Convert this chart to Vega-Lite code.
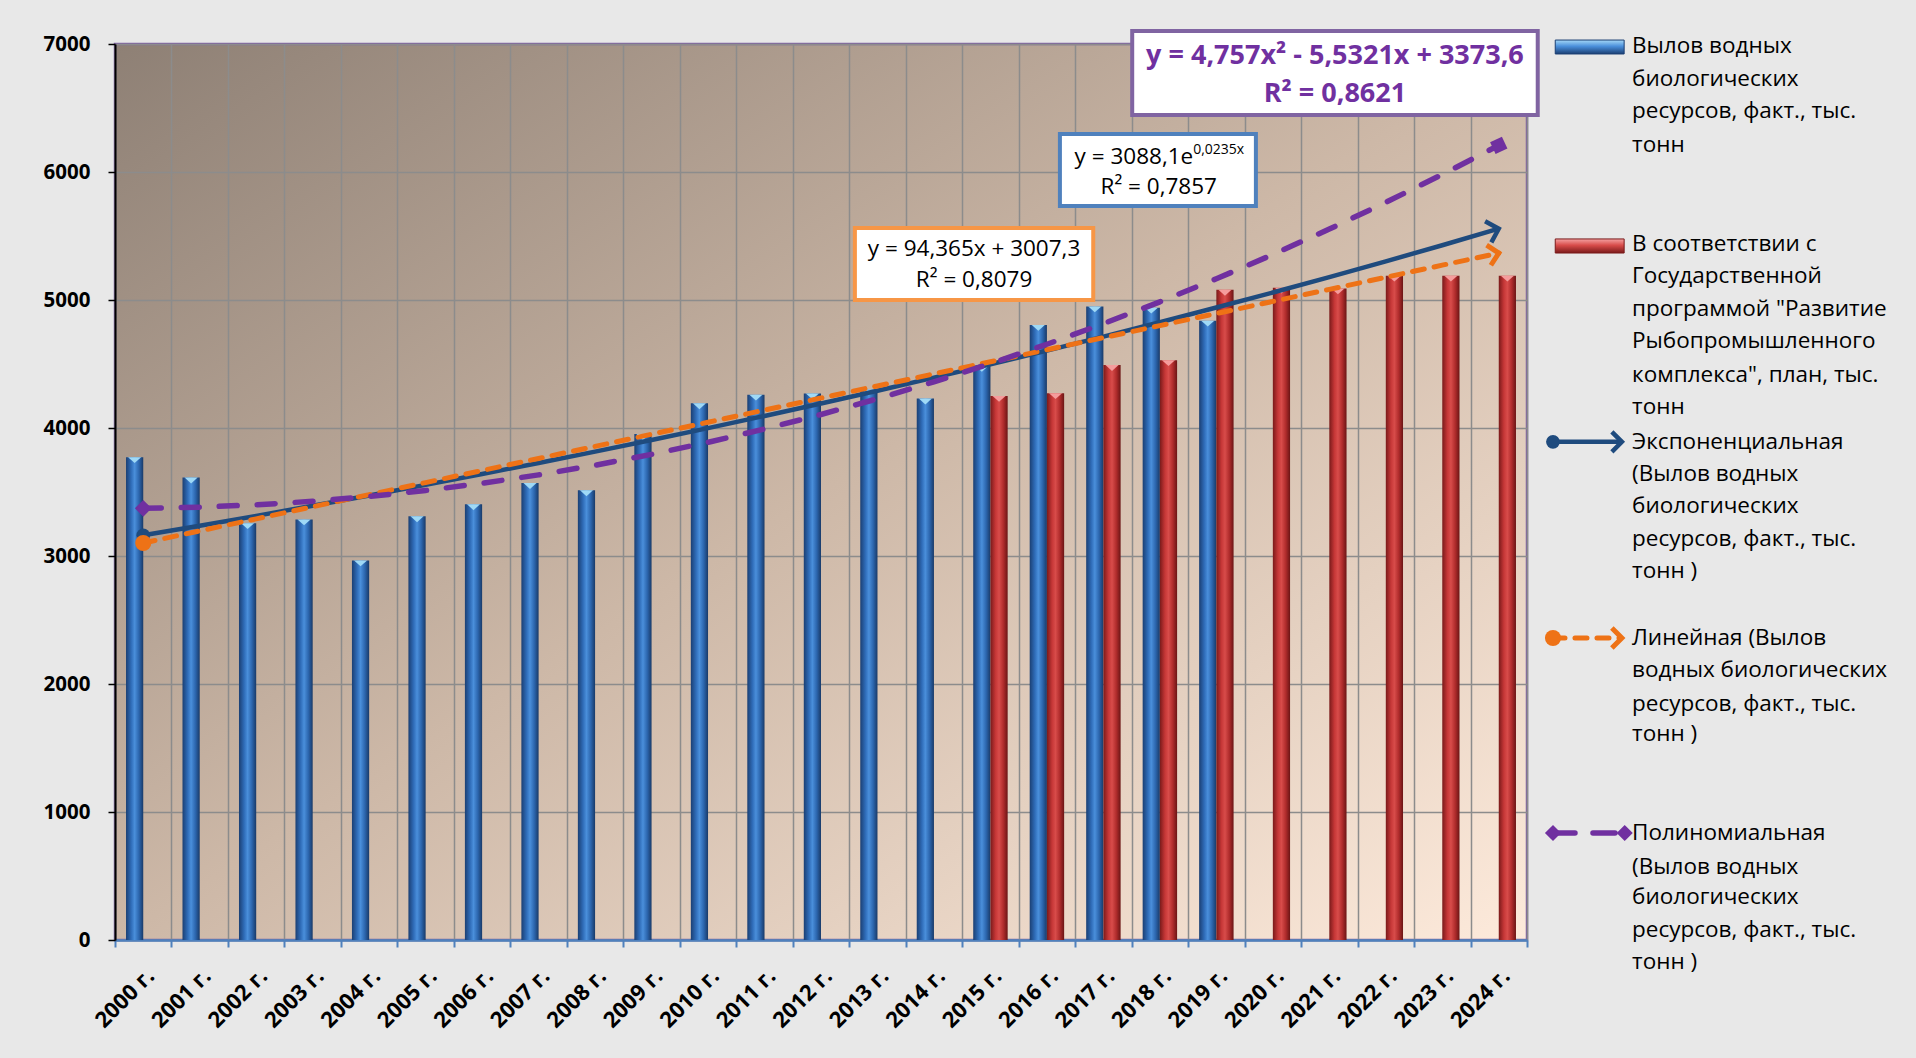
{
  "$schema": "https://vega.github.io/schema/vega-lite/v6.json",
  "width": 1412,
  "height": 896,
  "autosize": {"type": "none"},
  "padding": {"left": 115, "top": 44, "right": 389, "bottom": 118},
  "background": "#E8E8E8",
  "config": {
    "font": "Open Sans",
    "view": {
      "fill": {"gradient": "linear", "x1": 0, "y1": 0, "x2": 1, "y2": 1,
        "stops": [{"offset": 0, "color": "#8E8075"}, {"offset": 0.5, "color": "#CDB8A7"}, {"offset": 1, "color": "#FDEADB"}]},
      "stroke": "#8064A2",
      "strokeWidth": 2.5
    }
  },
  "datasets": {
    "bars": [
      {"year": "2000 г.", "series": "fact", "value": 3772},
      {"year": "2001 г.", "series": "fact", "value": 3613},
      {"year": "2002 г.", "series": "fact", "value": 3256},
      {"year": "2003 г.", "series": "fact", "value": 3286},
      {"year": "2004 г.", "series": "fact", "value": 2965},
      {"year": "2005 г.", "series": "fact", "value": 3310},
      {"year": "2006 г.", "series": "fact", "value": 3404},
      {"year": "2007 г.", "series": "fact", "value": 3570},
      {"year": "2008 г.", "series": "fact", "value": 3513},
      {"year": "2009 г.", "series": "fact", "value": 3953},
      {"year": "2010 г.", "series": "fact", "value": 4193},
      {"year": "2011 г.", "series": "fact", "value": 4260},
      {"year": "2012 г.", "series": "fact", "value": 4270},
      {"year": "2013 г.", "series": "fact", "value": 4300},
      {"year": "2014 г.", "series": "fact", "value": 4230},
      {"year": "2015 г.", "series": "fact", "value": 4485},
      {"year": "2016 г.", "series": "fact", "value": 4805},
      {"year": "2017 г.", "series": "fact", "value": 4950},
      {"year": "2018 г.", "series": "fact", "value": 4940},
      {"year": "2019 г.", "series": "fact", "value": 4838},
      {"year": "2015 г.", "series": "plan", "value": 4250},
      {"year": "2016 г.", "series": "plan", "value": 4272},
      {"year": "2017 г.", "series": "plan", "value": 4492},
      {"year": "2018 г.", "series": "plan", "value": 4530},
      {"year": "2019 г.", "series": "plan", "value": 5080},
      {"year": "2020 г.", "series": "plan", "value": 5096},
      {"year": "2021 г.", "series": "plan", "value": 5090},
      {"year": "2022 г.", "series": "plan", "value": 5190},
      {"year": "2023 г.", "series": "plan", "value": 5190},
      {"year": "2024 г.", "series": "plan", "value": 5190}
    ],
    "trends": [
      {"year": "2000 г.", "trend": "exp", "value": 3161.5}, {"year": "2001 г.", "trend": "exp", "value": 3236.7},
      {"year": "2002 г.", "trend": "exp", "value": 3313.7}, {"year": "2003 г.", "trend": "exp", "value": 3392.5},
      {"year": "2004 г.", "trend": "exp", "value": 3473.1}, {"year": "2005 г.", "trend": "exp", "value": 3555.7},
      {"year": "2006 г.", "trend": "exp", "value": 3640.3}, {"year": "2007 г.", "trend": "exp", "value": 3726.8},
      {"year": "2008 г.", "trend": "exp", "value": 3815.5}, {"year": "2009 г.", "trend": "exp", "value": 3906.2},
      {"year": "2010 г.", "trend": "exp", "value": 3999.1}, {"year": "2011 г.", "trend": "exp", "value": 4094.1},
      {"year": "2012 г.", "trend": "exp", "value": 4191.5}, {"year": "2013 г.", "trend": "exp", "value": 4291.2},
      {"year": "2014 г.", "trend": "exp", "value": 4393.2}, {"year": "2015 г.", "trend": "exp", "value": 4497.7},
      {"year": "2016 г.", "trend": "exp", "value": 4604.6}, {"year": "2017 г.", "trend": "exp", "value": 4714.1},
      {"year": "2018 г.", "trend": "exp", "value": 4826.2}, {"year": "2019 г.", "trend": "exp", "value": 4941.0},
      {"year": "2020 г.", "trend": "exp", "value": 5058.4}, {"year": "2021 г.", "trend": "exp", "value": 5178.7},
      {"year": "2022 г.", "trend": "exp", "value": 5301.9}, {"year": "2023 г.", "trend": "exp", "value": 5427.9},
      {"year": "2024 г.", "trend": "exp", "value": 5557.0},
      {"year": "2000 г.", "trend": "lin", "value": 3101.7}, {"year": "2001 г.", "trend": "lin", "value": 3196.0},
      {"year": "2002 г.", "trend": "lin", "value": 3290.4}, {"year": "2003 г.", "trend": "lin", "value": 3384.8},
      {"year": "2004 г.", "trend": "lin", "value": 3479.1}, {"year": "2005 г.", "trend": "lin", "value": 3573.5},
      {"year": "2006 г.", "trend": "lin", "value": 3667.9}, {"year": "2007 г.", "trend": "lin", "value": 3762.2},
      {"year": "2008 г.", "trend": "lin", "value": 3856.6}, {"year": "2009 г.", "trend": "lin", "value": 3951.0},
      {"year": "2010 г.", "trend": "lin", "value": 4045.3}, {"year": "2011 г.", "trend": "lin", "value": 4139.7},
      {"year": "2012 г.", "trend": "lin", "value": 4234.0}, {"year": "2013 г.", "trend": "lin", "value": 4328.4},
      {"year": "2014 г.", "trend": "lin", "value": 4422.8}, {"year": "2015 г.", "trend": "lin", "value": 4517.1},
      {"year": "2016 г.", "trend": "lin", "value": 4611.5}, {"year": "2017 г.", "trend": "lin", "value": 4705.9},
      {"year": "2018 г.", "trend": "lin", "value": 4800.2}, {"year": "2019 г.", "trend": "lin", "value": 4894.6},
      {"year": "2020 г.", "trend": "lin", "value": 4989.0}, {"year": "2021 г.", "trend": "lin", "value": 5083.3},
      {"year": "2022 г.", "trend": "lin", "value": 5177.7}, {"year": "2023 г.", "trend": "lin", "value": 5272.1},
      {"year": "2024 г.", "trend": "lin", "value": 5366.4},
      {"year": "2000 г.", "trend": "poly", "value": 3372.8}, {"year": "2001 г.", "trend": "poly", "value": 3381.6},
      {"year": "2002 г.", "trend": "poly", "value": 3399.8}, {"year": "2003 г.", "trend": "poly", "value": 3427.6},
      {"year": "2004 г.", "trend": "poly", "value": 3464.9}, {"year": "2005 г.", "trend": "poly", "value": 3511.7},
      {"year": "2006 г.", "trend": "poly", "value": 3568.0}, {"year": "2007 г.", "trend": "poly", "value": 3633.8},
      {"year": "2008 г.", "trend": "poly", "value": 3709.1}, {"year": "2009 г.", "trend": "poly", "value": 3794.0},
      {"year": "2010 г.", "trend": "poly", "value": 3888.3}, {"year": "2011 г.", "trend": "poly", "value": 3992.2},
      {"year": "2012 г.", "trend": "poly", "value": 4105.6}, {"year": "2013 г.", "trend": "poly", "value": 4228.5},
      {"year": "2014 г.", "trend": "poly", "value": 4360.9}, {"year": "2015 г.", "trend": "poly", "value": 4502.9},
      {"year": "2016 г.", "trend": "poly", "value": 4654.3}, {"year": "2017 г.", "trend": "poly", "value": 4815.3},
      {"year": "2018 г.", "trend": "poly", "value": 4985.8}, {"year": "2019 г.", "trend": "poly", "value": 5165.8},
      {"year": "2020 г.", "trend": "poly", "value": 5355.3}, {"year": "2021 г.", "trend": "poly", "value": 5554.3},
      {"year": "2022 г.", "trend": "poly", "value": 5762.8}, {"year": "2023 г.", "trend": "poly", "value": 5980.9},
      {"year": "2024 г.", "trend": "poly", "value": 6208.4}
    ],
    "boxes": [
      {"box": "poly", "x": 18.01, "x2": 25.19, "y": 7102, "y2": 6445},
      {"box": "exp", "x": 16.73, "x2": 20.2, "y": 6297, "y2": 5734},
      {"box": "lin", "x": 13.1, "x2": 17.32, "y": 5563, "y2": 5000}
    ],
    "notes": [
      {"style": "poly", "x": 21.6, "y": 6906, "text": "y = 4,757x² - 5,5321x + 3373,6"},
      {"style": "poly", "x": 21.6, "y": 6612, "text": "R² = 0,8621"},
      {"style": "eqr", "x": 19.09, "y": 6117, "text": "y = 3088,1e"},
      {"style": "sup", "x": 19.09, "y": 6172, "text": "0,0235x"},
      {"style": "eq", "x": 18.48, "y": 5879, "text": "R² = 0,7857"},
      {"style": "eq", "x": 15.21, "y": 5398, "text": "y = 94,365x + 3007,3"},
      {"style": "eq", "x": 15.21, "y": 5156, "text": "R² = 0,8079"}
    ],
    "legendText": [
      {"x": 26.86, "y": 6981, "text": "Вылов водных"},
      {"x": 26.86, "y": 6730, "text": "биологических"},
      {"x": 26.86, "y": 6473, "text": "ресурсов, факт., тыс."},
      {"x": 26.86, "y": 6214, "text": "тонн"},
      {"x": 26.86, "y": 5438, "text": "В соответствии с"},
      {"x": 26.86, "y": 5190, "text": "Государственной"},
      {"x": 26.86, "y": 4930, "text": "программой \"Развитие"},
      {"x": 26.86, "y": 4680, "text": "Рыбопромышленного"},
      {"x": 26.86, "y": 4417, "text": "комплекса\", план, тыс."},
      {"x": 26.86, "y": 4164, "text": "тонн"},
      {"x": 26.86, "y": 3892, "text": "Экспоненциальная"},
      {"x": 26.86, "y": 3641, "text": "(Вылов водных"},
      {"x": 26.86, "y": 3391, "text": "биологических"},
      {"x": 26.86, "y": 3133, "text": "ресурсов, факт., тыс."},
      {"x": 26.86, "y": 2883, "text": "тонн )"},
      {"x": 26.86, "y": 2359, "text": "Линейная (Вылов"},
      {"x": 26.86, "y": 2109, "text": "водных биологических"},
      {"x": 26.86, "y": 1844, "text": "ресурсов, факт., тыс."},
      {"x": 26.86, "y": 1609, "text": "тонн )"},
      {"x": 26.86, "y": 836, "text": "Полиномиальная"},
      {"x": 26.86, "y": 573, "text": "(Вылов водных"},
      {"x": 26.86, "y": 336, "text": "биологических"},
      {"x": 26.86, "y": 78, "text": "ресурсов, факт., тыс."},
      {"x": 26.86, "y": -172, "text": "тонн )"}
    ],
    "legendSwatch": [
      {"series": "fact", "x": 25.5, "x2": 26.72, "y": 7031, "y2": 6922},
      {"series": "plan", "x": 25.5, "x2": 26.72, "y": 5477, "y2": 5367}
    ],
    "legendLine": [
      {"trend": "exp", "x": 25.46, "x2": 26.66, "y": 3892},
      {"trend": "lin", "x": 25.46, "x2": 26.66, "y": 2359},
      {"trend": "poly", "x": 25.46, "x2": 26.73, "y": 836}
    ],
    "legendMark": [
      {"trend": "exp", "end": "start", "x": 25.46, "y": 3892},
      {"trend": "exp", "end": "end", "x": 26.68, "y": 3892},
      {"trend": "lin", "end": "start", "x": 25.46, "y": 2359},
      {"trend": "lin", "end": "end", "x": 26.68, "y": 2359},
      {"trend": "poly", "end": "start", "x": 25.46, "y": 836},
      {"trend": "poly", "end": "end", "x": 26.73, "y": 836}
    ]
  },
  "resolve": {"scale": {"x": "independent", "y": "independent"}},
  "layer": [
    {
      "encoding": {
        "x": {
          "field": "year", "type": "nominal", "title": null,
          "scale": {"domain": ["2000 г.", "2001 г.", "2002 г.", "2003 г.", "2004 г.", "2005 г.", "2006 г.", "2007 г.", "2008 г.", "2009 г.", "2010 г.", "2011 г.", "2012 г.", "2013 г.", "2014 г.", "2015 г.", "2016 г.", "2017 г.", "2018 г.", "2019 г.", "2020 г.", "2021 г.", "2022 г.", "2023 г.", "2024 г."], "paddingInner": 0, "paddingOuter": 0},
          "axis": {
            "labelAngle": -45, "labelAlign": "right", "labelBaseline": "middle",
            "labelFont": "Open Sans", "labelFontWeight": "bold", "labelFontSize": 22, "labelColor": "#000000",
            "labelPadding": 25, "labelOffset": 7, "labelOverlap": false, "labelFlush": false,
            "tickBand": "extent", "tickSize": 7, "tickColor": "#4F81BD", "tickWidth": 2,
            "domainColor": "#4F81BD", "domainWidth": 2.5,
            "grid": true, "gridColor": "#8C8C8C", "gridWidth": 1.5
          }
        },
        "y": {
          "field": "value", "type": "quantitative", "title": null,
          "scale": {"domain": [0, 7000], "nice": false, "zero": true},
          "axis": {
            "values": [0, 1000, 2000, 3000, 4000, 5000, 6000, 7000], "format": "d",
            "labelFont": "Open Sans", "labelFontWeight": "bold", "labelFontSize": 20.5, "labelColor": "#000000",
            "labelPadding": 18, "labelFlush": false,
            "tickSize": 7, "tickColor": "#000000", "tickWidth": 1.5,
            "domainColor": "#000000", "domainWidth": 2,
            "grid": true, "gridColor": "#8C8C8C", "gridWidth": 1.5
          }
        }
      },
      "layer": [
        {
          "data": {"name": "bars"},
          "transform": [{"filter": "datum.series == 'fact'"}],
          "mark": {"type": "bar", "color": {"gradient": "linear", "x1": 0, "y1": 0, "x2": 1, "y2": 0,
            "stops": [{"offset": 0, "color": "#1B3F73"}, {"offset": 0.3, "color": "#2F6CB8"}, {"offset": 0.5, "color": "#4A8FDB"}, {"offset": 0.75, "color": "#2C66AE"}, {"offset": 1, "color": "#193A68"}]}},
          "encoding": {"xOffset": {"field": "series", "type": "nominal", "scale": {"domain": ["fact", "plan"], "paddingInner": 0, "paddingOuter": 0.64}}}
        },
        {
          "data": {"name": "bars"},
          "transform": [{"filter": "datum.series == 'plan'"}],
          "mark": {"type": "bar", "color": {"gradient": "linear", "x1": 0, "y1": 0, "x2": 1, "y2": 0,
            "stops": [{"offset": 0, "color": "#7A1A1A"}, {"offset": 0.3, "color": "#C63737"}, {"offset": 0.5, "color": "#D84C4A"}, {"offset": 0.75, "color": "#B02C2C"}, {"offset": 1, "color": "#6B1515"}]}},
          "encoding": {"xOffset": {"field": "series", "type": "nominal", "scale": {"domain": ["fact", "plan"], "paddingInner": 0, "paddingOuter": 0.64}}}
        },
        {
          "data": {"name": "bars"},
          "mark": {"type": "point", "shape": "M-1,0L1,0L0,0.9Z", "filled": true, "size": 170, "opacity": 1},
          "encoding": {
            "xOffset": {"field": "series", "type": "nominal", "scale": {"domain": ["fact", "plan"], "paddingInner": 0, "paddingOuter": 0.64}},
            "color": {"field": "series", "type": "nominal", "scale": {"domain": ["fact", "plan"], "range": ["#9FD9F6", "#F59C9C"]}, "legend": null}
          }
        },
        {
          "data": {"name": "trends"},
          "transform": [{"filter": "datum.trend == 'exp'"}],
          "mark": {"type": "line", "color": "#1F4B7E", "strokeWidth": 4.5},
          "encoding": {}
        },
        {
          "data": {"name": "trends"},
          "transform": [{"filter": "datum.trend == 'lin'"}],
          "mark": {"type": "line", "color": "#EE7216", "strokeWidth": 5, "strokeDash": [12, 10], "strokeCap": "round"},
          "encoding": {}
        },
        {
          "data": {"name": "trends"},
          "transform": [{"filter": "datum.trend == 'poly'"}],
          "mark": {"type": "line", "color": "#7030A0", "strokeWidth": 5.5, "strokeDash": [18, 20], "strokeCap": "round"},
          "encoding": {}
        },
        {
          "data": {"name": "trends"},
          "transform": [{"filter": "datum.trend == 'exp' && datum.year == '2000 г.'"}],
          "mark": {"type": "point", "shape": "circle", "filled": true, "color": "#1F4B7E", "size": 190, "opacity": 1}
        },
        {
          "data": {"name": "trends"},
          "transform": [{"filter": "datum.trend == 'lin' && datum.year == '2000 г.'"}],
          "mark": {"type": "point", "shape": "circle", "filled": true, "color": "#EE7216", "size": 260, "opacity": 1}
        },
        {
          "data": {"name": "trends"},
          "transform": [{"filter": "datum.trend == 'poly' && datum.year == '2000 г.'"}],
          "mark": {"type": "point", "shape": "diamond", "filled": true, "color": "#7030A0", "size": 280, "opacity": 1}
        },
        {
          "data": {"name": "trends"},
          "transform": [{"filter": "datum.trend == 'exp' && datum.year == '2024 г.'"}],
          "mark": {"type": "point", "shape": "M-1,-1L0,0L-1,1", "filled": false, "stroke": "#1F4B7E", "strokeWidth": 4.5, "size": 484, "angle": 343.5, "opacity": 1}
        },
        {
          "data": {"name": "trends"},
          "transform": [{"filter": "datum.trend == 'lin' && datum.year == '2024 г.'"}],
          "mark": {"type": "point", "shape": "M-1,-1L0,0L-1,1", "filled": false, "stroke": "#EE7216", "strokeWidth": 5, "size": 420, "angle": 348, "opacity": 1}
        },
        {
          "data": {"name": "trends"},
          "transform": [{"filter": "datum.trend == 'poly' && datum.year == '2024 г.'"}],
          "mark": {"type": "point", "shape": "square", "filled": true, "color": "#7030A0", "size": 170, "angle": 335, "opacity": 1}
        }
      ]
    },
    {
      "encoding": {
        "x": {"field": "x", "type": "quantitative", "scale": {"domain": [0, 25], "nice": false, "zero": false}, "axis": null},
        "y": {"field": "y", "type": "quantitative", "scale": {"domain": [0, 7000], "nice": false, "zero": false}, "axis": null}
      },
      "layer": [
        {
          "data": {"name": "boxes"},
          "mark": {"type": "rect", "fill": "#FFFFFF", "strokeWidth": 4},
          "encoding": {
            "x2": {"field": "x2"}, "y2": {"field": "y2"},
            "stroke": {"field": "box", "type": "nominal", "scale": {"domain": ["poly", "exp", "lin"], "range": ["#8064A2", "#4F81BD", "#F79646"]}, "legend": null}
          }
        },
        {
          "data": {"name": "notes"},
          "transform": [{"filter": "datum.style == 'poly'"}],
          "mark": {"type": "text", "font": "Open Sans", "fontSize": 27, "fontWeight": "bold", "color": "#7030A0", "align": "center", "baseline": "middle"},
          "encoding": {"text": {"field": "text"}}
        },
        {
          "data": {"name": "notes"},
          "transform": [{"filter": "datum.style == 'eq'"}],
          "mark": {"type": "text", "font": "Open Sans", "fontSize": 22.5, "color": "#000000", "align": "center", "baseline": "middle"},
          "encoding": {"text": {"field": "text"}}
        },
        {
          "data": {"name": "notes"},
          "transform": [{"filter": "datum.style == 'eqr'"}],
          "mark": {"type": "text", "font": "Open Sans", "fontSize": 22.5, "color": "#000000", "align": "right", "baseline": "middle"},
          "encoding": {"text": {"field": "text"}}
        },
        {
          "data": {"name": "notes"},
          "transform": [{"filter": "datum.style == 'sup'"}],
          "mark": {"type": "text", "font": "Open Sans", "fontSize": 14, "color": "#000000", "align": "left", "baseline": "middle"},
          "encoding": {"text": {"field": "text"}}
        },
        {
          "data": {"name": "legendText"},
          "mark": {"type": "text", "font": "Open Sans", "fontSize": 22.5, "color": "#000000", "align": "left", "baseline": "middle"},
          "encoding": {"text": {"field": "text"}}
        },
        {
          "data": {"name": "legendSwatch"},
          "transform": [{"filter": "datum.series == 'fact'"}],
          "mark": {"type": "rect", "stroke": "#1B3F73", "strokeWidth": 1, "fill": {"gradient": "linear", "x1": 0, "y1": 0, "x2": 0, "y2": 1,
            "stops": [{"offset": 0, "color": "#A6D8F7"}, {"offset": 0.45, "color": "#4A8FDB"}, {"offset": 1, "color": "#1B3F73"}]}},
          "encoding": {"x2": {"field": "x2"}, "y2": {"field": "y2"}}
        },
        {
          "data": {"name": "legendSwatch"},
          "transform": [{"filter": "datum.series == 'plan'"}],
          "mark": {"type": "rect", "stroke": "#7A1A1A", "strokeWidth": 1, "fill": {"gradient": "linear", "x1": 0, "y1": 0, "x2": 0, "y2": 1,
            "stops": [{"offset": 0, "color": "#F5A3A3"}, {"offset": 0.45, "color": "#D84C4A"}, {"offset": 1, "color": "#7A1A1A"}]}},
          "encoding": {"x2": {"field": "x2"}, "y2": {"field": "y2"}}
        },
        {
          "data": {"name": "legendLine"},
          "transform": [{"filter": "datum.trend == 'exp'"}],
          "mark": {"type": "rule", "color": "#1F4B7E", "strokeWidth": 4.5},
          "encoding": {"x2": {"field": "x2"}}
        },
        {
          "data": {"name": "legendLine"},
          "transform": [{"filter": "datum.trend == 'lin'"}],
          "mark": {"type": "rule", "color": "#EE7216", "strokeWidth": 5, "strokeDash": [12, 10], "strokeCap": "round"},
          "encoding": {"x2": {"field": "x2"}}
        },
        {
          "data": {"name": "legendLine"},
          "transform": [{"filter": "datum.trend == 'poly'"}],
          "mark": {"type": "rule", "color": "#7030A0", "strokeWidth": 5.5, "strokeDash": [22, 18], "strokeCap": "round"},
          "encoding": {"x2": {"field": "x2"}}
        },
        {
          "data": {"name": "legendMark"},
          "transform": [{"filter": "datum.trend == 'exp' && datum.end == 'start'"}],
          "mark": {"type": "point", "shape": "circle", "filled": true, "color": "#1F4B7E", "size": 190, "opacity": 1}
        },
        {
          "data": {"name": "legendMark"},
          "transform": [{"filter": "datum.trend == 'lin' && datum.end == 'start'"}],
          "mark": {"type": "point", "shape": "circle", "filled": true, "color": "#EE7216", "size": 260, "opacity": 1}
        },
        {
          "data": {"name": "legendMark"},
          "transform": [{"filter": "datum.trend == 'poly'"}],
          "mark": {"type": "point", "shape": "diamond", "filled": true, "color": "#7030A0", "size": 260, "opacity": 1}
        },
        {
          "data": {"name": "legendMark"},
          "transform": [{"filter": "datum.trend == 'exp' && datum.end == 'end'"}],
          "mark": {"type": "point", "shape": "M-1,-1L0,0L-1,1", "filled": false, "stroke": "#1F4B7E", "strokeWidth": 4.5, "size": 400, "opacity": 1}
        },
        {
          "data": {"name": "legendMark"},
          "transform": [{"filter": "datum.trend == 'lin' && datum.end == 'end'"}],
          "mark": {"type": "point", "shape": "M-1,-1L0,0L-1,1", "filled": false, "stroke": "#EE7216", "strokeWidth": 5, "size": 400, "opacity": 1}
        }
      ]
    }
  ]
}
